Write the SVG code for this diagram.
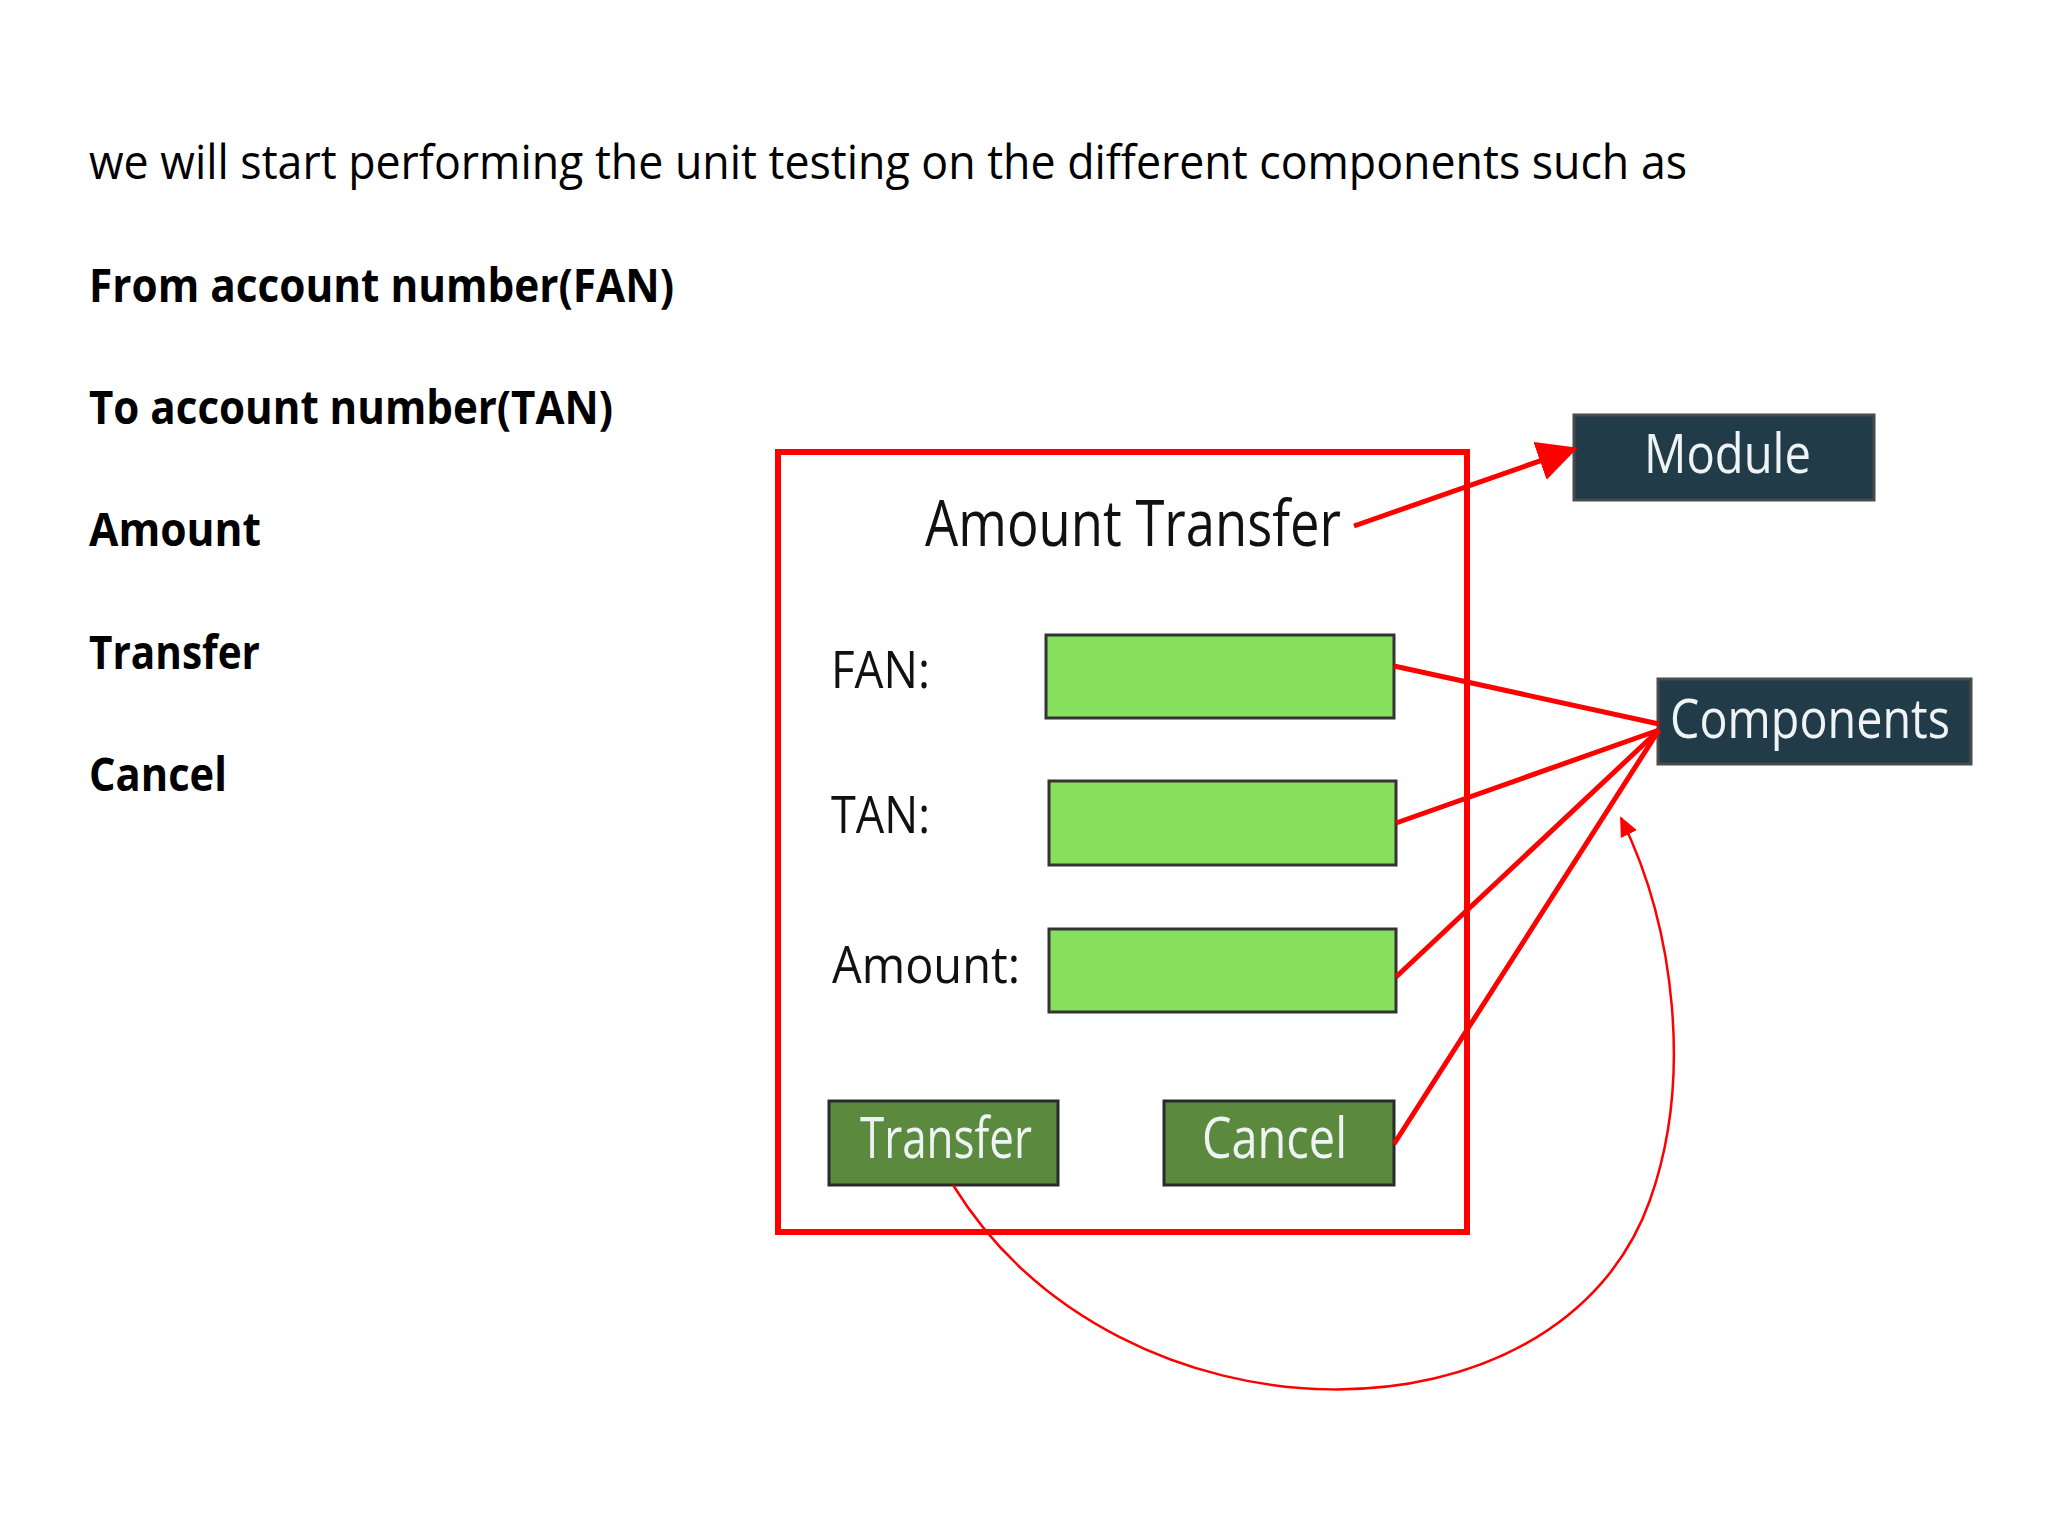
<svg xmlns="http://www.w3.org/2000/svg" width="2048" height="1536" viewBox="0 0 2048 1536">
<defs>
<style>
.txt{font-family:"Open Sans","Liberation Sans",sans-serif;fill:#000}
.bold{font-weight:bold}
.lbl{font-family:"Open Sans","Liberation Sans",sans-serif;fill:#111}
.wht{font-family:"Open Sans","Liberation Sans",sans-serif;fill:#eef4f4}
.field{fill:#86e05e;stroke:#333;stroke-width:3}
.btn{fill:#5b8a3e;stroke:#2a2a2a;stroke-width:3}
.dark{fill:#213b49;stroke:#4a4a4a;stroke-width:3}
.con{stroke:#ff0000;stroke-width:5;fill:none}
.thin{stroke:#ff0000;stroke-width:2.5;fill:none}
</style>
<marker id="bigArrow" markerUnits="userSpaceOnUse" markerWidth="44" markerHeight="44" refX="36" refY="20" orient="auto">
<path d="M0,0 L40,20 L0,40 z" fill="#ff0000"/>
</marker>
<marker id="smallArrow" markerUnits="userSpaceOnUse" markerWidth="24" markerHeight="20" refX="18" refY="9" orient="auto">
<path d="M0,0 L20,9 L0,18 z" fill="#ff0000"/>
</marker>
</defs>
<rect width="2048" height="1536" fill="#ffffff"/>

<g id="intro-text">
<text class="txt" x="89" y="179" font-size="48" textLength="1598" lengthAdjust="spacingAndGlyphs">we will start performing the unit testing on the different components such as</text>
<text class="txt bold" x="89" y="302" font-size="46" textLength="585" lengthAdjust="spacingAndGlyphs">From account number(FAN)</text>
<text class="txt bold" x="89" y="424" font-size="46" textLength="524" lengthAdjust="spacingAndGlyphs">To account number(TAN)</text>
<text class="txt bold" x="89" y="546" font-size="46" textLength="172" lengthAdjust="spacingAndGlyphs">Amount</text>
<text class="txt bold" x="89" y="669" font-size="46" textLength="171" lengthAdjust="spacingAndGlyphs">Transfer</text>
<text class="txt bold" x="89" y="791" font-size="46" textLength="138" lengthAdjust="spacingAndGlyphs">Cancel</text>
</g>

<g id="module-frame">
<rect x="778" y="452" width="689" height="780" fill="none" stroke="#ff0000" stroke-width="6"/>
<text class="lbl" x="925" y="546" font-size="64" textLength="416" lengthAdjust="spacingAndGlyphs">Amount Transfer</text>
</g>

<g id="fan-field">
<text class="lbl" x="831" y="688" font-size="52" textLength="99" lengthAdjust="spacingAndGlyphs">FAN:</text>
<rect class="field" x="1046" y="635" width="348" height="83"/>
</g>

<g id="tan-field">
<text class="lbl" x="831" y="833" font-size="52" textLength="99" lengthAdjust="spacingAndGlyphs">TAN:</text>
<rect class="field" x="1049" y="781" width="347" height="84"/>
</g>

<g id="amount-field">
<text class="lbl" x="832" y="983" font-size="52" textLength="188" lengthAdjust="spacingAndGlyphs">Amount:</text>
<rect class="field" x="1049" y="929" width="347" height="83"/>
</g>

<g id="transfer-button">
<rect class="btn" x="829" y="1101" width="229" height="84"/>
<text class="wht" x="860" y="1158" font-size="56" textLength="172" lengthAdjust="spacingAndGlyphs">Transfer</text>
</g>

<g id="cancel-button">
<rect class="btn" x="1164" y="1101" width="230" height="84"/>
<text class="wht" x="1202" y="1158" font-size="56" textLength="145" lengthAdjust="spacingAndGlyphs">Cancel</text>
</g>

<g id="module-node">
<rect class="dark" x="1574" y="415" width="300" height="85"/>
<text class="wht" x="1644" y="473" font-size="54" textLength="167" lengthAdjust="spacingAndGlyphs">Module</text>
</g>

<g id="components-node">
<rect class="dark" x="1658" y="679" width="313" height="85"/>
<text class="wht" x="1670" y="738" font-size="54" textLength="280" lengthAdjust="spacingAndGlyphs">Components</text>
</g>

<g id="connectors">
<line class="con" x1="1354" y1="526" x2="1574" y2="449" marker-end="url(#bigArrow)"/>
<line class="con" x1="1394" y1="666" x2="1659" y2="724"/>
<line class="con" x1="1396" y1="823" x2="1659" y2="730"/>
<line class="con" x1="1396" y1="977" x2="1659" y2="730"/>
<line class="con" x1="1394" y1="1144" x2="1659" y2="730"/>
<path class="thin" d="M953,1185 C1120,1455 1560,1455 1650,1200 C1692,1082 1676,930 1621,818" marker-end="url(#smallArrow)"/>
</g>
</svg>
